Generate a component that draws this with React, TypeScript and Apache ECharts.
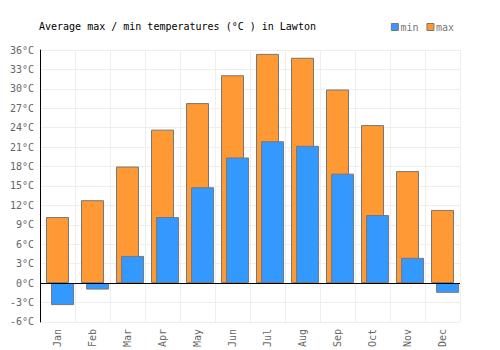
import React, { useEffect, useRef } from "react";
import * as echarts from "echarts";

const months = ["Jan", "Feb", "Mar", "Apr", "May", "Jun", "Jul", "Aug", "Sep", "Oct", "Nov", "Dec"];
const maxTemps = [10.2, 12.8, 18.0, 23.7, 27.8, 32.1, 35.4, 34.8, 29.9, 24.4, 17.3, 11.3];
const minTemps = [-3.4, -1.0, 4.2, 10.2, 14.8, 19.4, 21.9, 21.2, 16.9, 10.5, 3.9, -1.5];
const yMin = -6;
const yMax = 36;
const yStep = 3;

const FONT = "DejaVu Sans Mono";

export default function App() {
  const ref = useRef<HTMLDivElement>(null);
  useEffect(() => {
    if (!ref.current) return;
    const chart = echarts.init(ref.current, undefined, { renderer: "svg" });
    const barStyle = (c: string) => ({ color: c, borderColor: "#777", borderWidth: 1 });
    chart.setOption({
      animation: false,
      backgroundColor: "#fff",
      textStyle: { fontFamily: FONT },
      title: {
        text: "Average max / min temperatures (°C ) in Lawton",
        left: 34,
        top: 16,
        textStyle: { fontFamily: FONT, fontSize: 10, fontWeight: "normal", color: "#000" },
      },
      legend: {
        data: ["min", "max"],
        right: 41,
        top: 17,
        icon: "rect",
        itemWidth: 7,
        itemHeight: 7,
        itemGap: 8,
        itemStyle: { borderColor: "#777", borderWidth: 1 },
        textStyle: { fontFamily: FONT, fontSize: 10, color: "#777", padding: [0, 0, 0, -3] },
      },
      grid: { left: 40, right: 40, top: 50, bottom: 25, containLabel: false },
      xAxis: {
        type: "category",
        data: months,
        axisLine: { show: false, onZero: false },
        axisTick: { show: false },
        axisLabel: { rotate: 90, color: "#666", fontFamily: FONT, fontSize: 10, margin: 7 },
        splitLine: { show: true, lineStyle: { color: "#eee" } },
      },
      yAxis: {
        type: "value",
        min: yMin,
        max: yMax,
        interval: yStep,
        axisLine: { show: true, lineStyle: { color: "#000" } },
        axisTick: { show: false },
        axisLabel: { formatter: "{value}°C", color: "#666", fontFamily: FONT, fontSize: 10, margin: 6 },
        splitLine: { show: true, lineStyle: { color: "#eee" } },
      },
      series: [
        {
          name: "_pad",
          type: "bar",
          data: [],
          barWidth: 23,
          barGap: "-78%",
        },
        {
          name: "max",
          type: "bar",
          data: maxTemps,
          barWidth: 23,
          barGap: "-78%",
          itemStyle: barStyle("#ff9933"),
        },
        {
          name: "min",
          type: "bar",
          data: minTemps,
          barWidth: 23,
          barGap: "-78%",
          itemStyle: barStyle("#3399ff"),
          markLine: {
            silent: true,
            symbol: "none",
            label: { show: false },
            lineStyle: { color: "#000", width: 1, type: "solid" },
            data: [{ yAxis: 0 }],
          },
        },
      ],
    });
    return () => chart.dispose();
  }, []);
  return (
    <div
      ref={ref}
      style={{ position: "fixed", left: 0, top: 0, width: 500, height: 350 }}
    />
  );
}
